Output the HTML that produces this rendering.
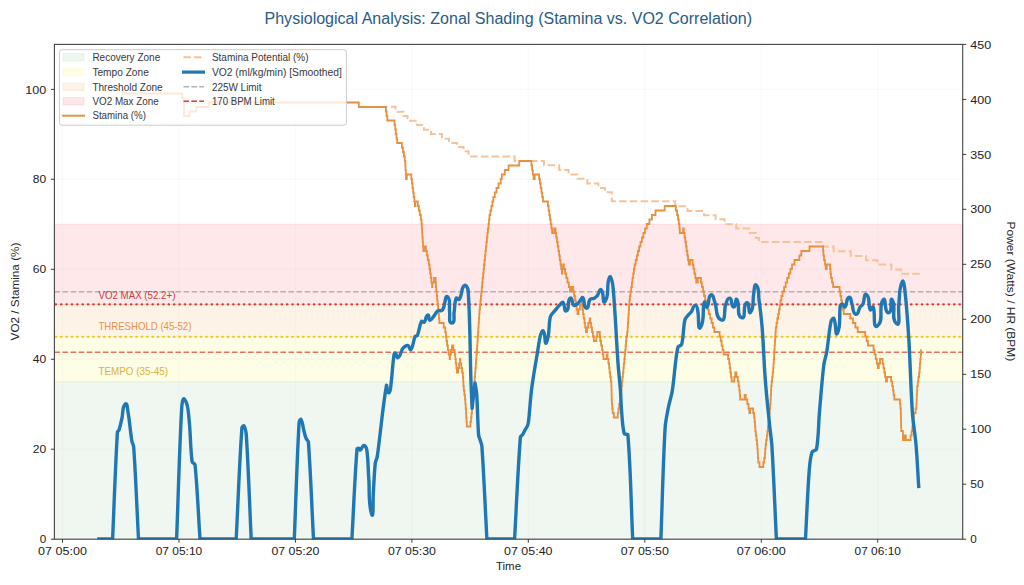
<!DOCTYPE html>
<html><head><meta charset="utf-8"><style>
html,body{margin:0;padding:0;background:#fff;width:1024px;height:585px;overflow:hidden}
svg{display:block;font-family:"Liberation Sans",sans-serif}
</style></head><body>
<svg width="1024" height="585" viewBox="0 0 1024 585">
<rect x="0" y="0" width="1024" height="585" fill="#ffffff"/>
<defs><clipPath id="ax"><rect x="54.4" y="44.4" width="908.3" height="494.8"/></clipPath></defs>
<rect x="54.4" y="381.8" width="908.3" height="157.4" fill="rgb(95,175,105)" fill-opacity="0.1" stroke="rgb(95,175,105)" stroke-opacity="0.1" stroke-width="1"/>
<rect x="54.4" y="336.8" width="908.3" height="45.0" fill="rgb(245,235,5)" fill-opacity="0.1" stroke="rgb(245,235,5)" stroke-opacity="0.1" stroke-width="1"/>
<rect x="54.4" y="304.4" width="908.3" height="32.4" fill="rgb(235,135,5)" fill-opacity="0.1" stroke="rgb(235,135,5)" stroke-opacity="0.1" stroke-width="1"/>
<rect x="54.4" y="224.3" width="908.3" height="80.1" fill="rgb(245,30,45)" fill-opacity="0.1" stroke="rgb(245,30,45)" stroke-opacity="0.1" stroke-width="1"/>
<path d="M62.5,44.4 L62.5,539.2 M179.0,44.4 L179.0,539.2 M295.4,44.4 L295.4,539.2 M411.9,44.4 L411.9,539.2 M528.3,44.4 L528.3,539.2 M644.8,44.4 L644.8,539.2 M761.3,44.4 L761.3,539.2 M877.7,44.4 L877.7,539.2 M54.4,539.2 L962.7,539.2 M54.4,449.2 L962.7,449.2 M54.4,359.3 L962.7,359.3 M54.4,269.3 L962.7,269.3 M54.4,179.3 L962.7,179.3 M54.4,89.4 L962.7,89.4" stroke="#b0b0b0" stroke-opacity="0.1" stroke-width="0.8" fill="none"/>
<path d="M54.4,291.8 L962.7,291.8" stroke="#b0b2b2" stroke-width="1.6" stroke-dasharray="5.63,2.44" fill="none"/>
<path d="M54.4,304.4 L962.7,304.4" stroke="#cc3d3d" stroke-width="2.3" stroke-linecap="round" stroke-dasharray="0.3,5.08" stroke-dashoffset="-1.3" fill="none"/>
<path d="M54.4,336.8 L962.7,336.8" stroke="#f0c419" stroke-width="2.3" stroke-linecap="round" stroke-dasharray="0.3,5.08" stroke-dashoffset="-1.3" fill="none"/>
<path d="M54.4,352.3 L962.7,352.3" stroke="#ee6e60" stroke-width="1.6" stroke-dasharray="5.63,2.44" fill="none"/>
<text x="98.4" y="299" font-size="10.6" fill="#c94242" textLength="77" lengthAdjust="spacingAndGlyphs">VO2 MAX (52.2+)</text>
<text x="98.4" y="330.4" font-size="10.6" fill="#e8904e" textLength="93" lengthAdjust="spacingAndGlyphs">THRESHOLD (45-52)</text>
<text x="98.4" y="375.3" font-size="10.6" fill="#d9b43a" textLength="69.6" lengthAdjust="spacingAndGlyphs">TEMPO (35-45)</text>
<g clip-path="url(#ax)">
<path d="M385.5,106.7 L395.5,106.7 L395.5,111.7 L403.5,111.7 L403.5,116.0 L407.5,116.0 L407.5,120.7 L417.0,120.7 L417.0,124.9 L424.0,124.9 L424.0,129.7 L431.0,129.7 L431.0,133.9 L442.0,133.9 L442.0,138.7 L449.0,138.7 L449.0,143.0 L457.0,143.0 L457.0,147.0 L463.5,147.0 L463.5,151.2 L468.5,151.2 L468.5,156.5 L514.6,156.5 L514.6,161.1 L544.0,161.1 L544.0,165.2 L559.2,165.2 L559.2,169.9 L568.6,169.9 L568.6,174.6 L577.3,174.6 L577.3,178.7 L587.3,178.7 L587.3,183.4 L598.4,183.4 L598.4,188.1 L604.9,188.1 L604.9,192.2 L611.9,192.2 L611.9,201.3 L675.2,201.3 L675.2,206.2 L687.5,206.2 L687.5,210.9 L704.0,210.9 L704.0,215.2 L715.7,215.2 L715.7,219.3 L724.5,219.3 L724.5,224.2 L736.2,224.2 L736.2,228.4 L749.7,228.4 L749.7,233.0 L756.0,233.0 L756.0,238.0 L759.0,238.0 L759.0,242.1 L822.9,242.1 L822.9,246.5 L833.6,246.5 L833.6,251.3 L850.8,251.3 L850.8,256.0 L866.0,256.0 L866.0,260.2 L877.4,260.2 L877.4,264.5 L891.4,264.5 L891.4,269.4 L900.9,269.4 L900.9,273.8 L921.2,273.8" stroke="#f5c39b" stroke-width="2" stroke-dasharray="7.51,3.25" stroke-dashoffset="5.46" fill="none"/>
<path d="M122.9,89.0 L122.9,93.5 L182.3,93.5 L182.3,98.0 L183.7,98.0 L183.7,102.5 L184.0,102.5 L184.0,116.0 L189.5,116.0 L189.5,111.5 L196.3,111.5 L196.3,107.0 L208.6,107.0 L208.6,102.5 L358.8,102.5 L358.8,107.0 L385.9,107.0 L385.9,111.5 L386.6,111.5 L386.6,116.0 L387.3,116.0 L387.3,120.5 L394.5,120.5 L394.5,125.0 L395.2,125.0 L395.2,129.5 L395.8,129.5 L395.8,134.0 L396.5,134.0 L396.5,138.5 L397.2,138.5 L397.2,143.0 L401.9,143.0 L401.9,147.5 L402.9,147.5 L402.9,152.0 L403.9,152.0 L403.9,156.5 L404.8,156.5 L404.8,161.0 L405.3,161.0 L405.3,165.5 L405.5,165.5 L405.5,170.0 L405.8,170.0 L405.8,174.5 L406.0,174.5 L406.0,179.0 L406.8,179.0 L406.8,174.5 L411.3,174.5 L411.3,179.0 L411.9,179.0 L411.9,183.5 L412.5,183.5 L412.5,188.0 L413.1,188.0 L413.1,192.5 L413.7,192.5 L413.7,197.0 L414.3,197.0 L414.3,201.5 L414.9,201.5 L414.9,206.0 L415.3,206.0 L415.3,201.5 L417.8,201.5 L417.8,206.0 L418.9,206.0 L418.9,210.5 L419.8,210.5 L419.8,215.0 L420.8,215.0 L420.8,219.5 L421.5,219.5 L421.5,224.0 L421.8,224.0 L421.8,228.5 L422.1,228.5 L422.1,233.0 L422.4,233.0 L422.4,237.5 L422.7,237.5 L422.7,242.0 L423.0,242.0 L423.0,246.5 L423.3,246.5 L423.3,251.0 L424.3,251.0 L424.3,246.5 L425.9,246.5 L425.9,251.0 L426.8,251.0 L426.8,255.5 L427.8,255.5 L427.8,260.0 L428.8,260.0 L428.8,264.5 L429.5,264.5 L429.5,269.0 L430.1,269.0 L430.1,273.5 L430.8,273.5 L430.8,278.0 L431.4,278.0 L431.4,282.5 L432.1,282.5 L432.1,287.0 L432.3,287.0 L432.3,282.5 L434.0,282.5 L434.0,278.0 L435.6,278.0 L435.6,282.5 L435.9,282.5 L435.9,287.0 L436.3,287.0 L436.3,291.5 L436.8,291.5 L436.8,296.0 L437.2,296.0 L437.2,300.5 L437.6,300.5 L437.6,305.0 L438.1,305.0 L438.1,309.5 L438.5,309.5 L438.5,314.0 L438.9,314.0 L438.9,318.5 L439.3,318.5 L439.3,323.0 L443.7,323.0 L443.7,327.5 L445.2,327.5 L445.2,332.0 L445.9,332.0 L445.9,336.5 L446.5,336.5 L446.5,341.0 L447.1,341.0 L447.1,345.5 L447.9,345.5 L447.9,350.0 L448.7,350.0 L448.7,354.5 L449.6,354.5 L449.6,359.0 L449.9,359.0 L449.9,354.5 L450.9,354.5 L450.9,350.0 L452.0,350.0 L452.0,345.5 L453.3,345.5 L453.3,350.0 L454.7,350.0 L454.7,354.5 L455.3,354.5 L455.3,359.0 L455.8,359.0 L455.8,363.5 L456.4,363.5 L456.4,368.0 L456.9,368.0 L456.9,372.5 L458.2,372.5 L458.2,368.0 L459.1,368.0 L459.1,363.5 L460.0,363.5 L460.0,359.0 L460.3,359.0 L460.3,363.5 L461.2,363.5 L461.2,368.0 L462.1,368.0 L462.1,372.5 L462.9,372.5 L462.9,377.0 L463.2,377.0 L463.2,381.5 L463.4,381.5 L463.4,386.0 L463.8,386.0 L463.8,390.5 L464.4,390.5 L464.4,395.0 L465.0,395.0 L465.0,399.5 L465.4,399.5 L465.4,404.0 L465.7,404.0 L465.7,408.5 L466.0,408.5 L466.0,413.0 L466.2,413.0 L466.2,417.5 L466.5,417.5 L466.5,422.0 L466.8,422.0 L466.8,426.5 L470.4,426.5 L470.4,422.0 L471.0,422.0 L471.0,417.5 L471.5,417.5 L471.5,413.0 L472.0,413.0 L472.0,408.5 L472.4,408.5 L472.4,404.0 L472.8,404.0 L472.8,399.5 L473.2,399.5 L473.2,395.0 L473.6,395.0 L473.6,390.5 L474.0,390.5 L474.0,386.0 L474.4,386.0 L474.4,381.5 L474.7,381.5 L474.7,377.0 L475.1,377.0 L475.1,372.5 L475.4,372.5 L475.4,368.0 L475.8,368.0 L475.8,363.5 L476.1,363.5 L476.1,359.0 L476.4,359.0 L476.4,354.5 L476.8,354.5 L476.8,350.0 L477.1,350.0 L477.1,345.5 L477.4,345.5 L477.4,341.0 L477.7,341.0 L477.7,336.5 L478.0,336.5 L478.0,332.0 L478.3,332.0 L478.3,327.5 L478.6,327.5 L478.6,323.0 L478.9,323.0 L478.9,318.5 L479.2,318.5 L479.2,314.0 L479.5,314.0 L479.5,309.5 L480.0,309.5 L480.0,305.0 L480.4,305.0 L480.4,300.5 L480.9,300.5 L480.9,296.0 L481.3,296.0 L481.3,291.5 L481.8,291.5 L481.8,287.0 L482.2,287.0 L482.2,282.5 L482.7,282.5 L482.7,278.0 L483.1,278.0 L483.1,273.5 L483.6,273.5 L483.6,269.0 L484.0,269.0 L484.0,264.5 L484.5,264.5 L484.5,260.0 L485.0,260.0 L485.0,255.5 L485.4,255.5 L485.4,251.0 L485.9,251.0 L485.9,246.5 L486.4,246.5 L486.4,242.0 L486.9,242.0 L486.9,237.5 L487.4,237.5 L487.4,233.0 L487.9,233.0 L487.9,228.5 L488.5,228.5 L488.5,224.0 L489.0,224.0 L489.0,219.5 L489.5,219.5 L489.5,215.0 L490.4,215.0 L490.4,210.5 L491.4,210.5 L491.4,206.0 L492.4,206.0 L492.4,201.5 L493.3,201.5 L493.3,197.0 L494.8,197.0 L494.8,192.5 L496.5,192.5 L496.5,188.0 L498.5,188.0 L498.5,183.5 L500.7,183.5 L500.7,179.0 L501.8,179.0 L501.8,174.5 L504.8,174.5 L504.8,170.0 L508.6,170.0 L508.6,165.5 L519.3,165.5 L519.3,161.0 L531.4,161.0 L531.4,165.5 L532.1,165.5 L532.1,170.0 L532.8,170.0 L532.8,174.5 L533.6,174.5 L533.6,179.0 L534.7,179.0 L534.7,174.5 L539.1,174.5 L539.1,179.0 L539.9,179.0 L539.9,183.5 L540.7,183.5 L540.7,188.0 L541.5,188.0 L541.5,192.5 L542.2,192.5 L542.2,197.0 L543.0,197.0 L543.0,201.5 L547.9,201.5 L547.9,206.0 L548.6,206.0 L548.6,210.5 L549.3,210.5 L549.3,215.0 L550.0,215.0 L550.0,219.5 L550.7,219.5 L550.7,224.0 L551.4,224.0 L551.4,228.5 L552.1,228.5 L552.1,233.0 L554.1,233.0 L554.1,228.5 L555.5,228.5 L555.5,233.0 L556.2,233.0 L556.2,237.5 L556.9,237.5 L556.9,242.0 L557.7,242.0 L557.7,246.5 L558.4,246.5 L558.4,251.0 L559.1,251.0 L559.1,255.5 L559.8,255.5 L559.8,260.0 L560.5,260.0 L560.5,264.5 L561.2,264.5 L561.2,269.0 L561.9,269.0 L561.9,273.5 L562.4,273.5 L562.4,269.0 L563.2,269.0 L563.2,264.5 L563.9,264.5 L563.9,269.0 L565.1,269.0 L565.1,273.5 L566.3,273.5 L566.3,278.0 L567.5,278.0 L567.5,282.5 L568.8,282.5 L568.8,287.0 L570.0,287.0 L570.0,291.5 L571.6,291.5 L571.6,287.0 L573.3,287.0 L573.3,291.5 L574.1,291.5 L574.1,296.0 L575.0,296.0 L575.0,300.5 L575.8,300.5 L575.8,305.0 L576.6,305.0 L576.6,309.5 L577.5,309.5 L577.5,314.0 L578.5,314.0 L578.5,309.5 L579.9,309.5 L579.9,305.0 L581.4,305.0 L581.4,300.5 L581.6,300.5 L581.6,305.0 L582.3,305.0 L582.3,309.5 L583.0,309.5 L583.0,314.0 L583.7,314.0 L583.7,318.5 L584.5,318.5 L584.5,323.0 L585.2,323.0 L585.2,327.5 L585.9,327.5 L585.9,332.0 L587.0,332.0 L587.0,327.5 L588.3,327.5 L588.3,323.0 L589.6,323.0 L589.6,318.5 L590.2,318.5 L590.2,323.0 L591.1,323.0 L591.1,327.5 L592.0,327.5 L592.0,332.0 L592.9,332.0 L592.9,336.5 L593.8,336.5 L593.8,341.0 L596.4,341.0 L596.4,336.5 L597.3,336.5 L597.3,332.0 L599.8,332.0 L599.8,336.5 L600.2,336.5 L600.2,341.0 L601.1,341.0 L601.1,345.5 L602.1,345.5 L602.1,350.0 L602.7,350.0 L602.7,354.5 L603.4,354.5 L603.4,359.0 L606.7,359.0 L606.7,354.5 L607.5,354.5 L607.5,359.0 L608.4,359.0 L608.4,363.5 L609.1,363.5 L609.1,368.0 L609.6,368.0 L609.6,372.5 L610.2,372.5 L610.2,377.0 L610.8,377.0 L610.8,381.5 L611.3,381.5 L611.3,386.0 L611.5,386.0 L611.5,390.5 L611.6,390.5 L611.6,395.0 L611.7,395.0 L611.7,399.5 L611.9,399.5 L611.9,404.0 L612.2,404.0 L612.2,408.5 L612.7,408.5 L612.7,413.0 L613.8,413.0 L613.8,417.5 L617.8,417.5 L617.8,413.0 L618.5,413.0 L618.5,408.5 L619.2,408.5 L619.2,404.0 L620.1,404.0 L620.1,399.5 L620.9,399.5 L620.9,395.0 L621.2,395.0 L621.2,390.5 L621.5,390.5 L621.5,386.0 L621.9,386.0 L621.9,381.5 L622.4,381.5 L622.4,377.0 L622.9,377.0 L622.9,372.5 L623.4,372.5 L623.4,368.0 L623.8,368.0 L623.8,363.5 L624.3,363.5 L624.3,359.0 L624.7,359.0 L624.7,354.5 L625.2,354.5 L625.2,350.0 L625.6,350.0 L625.6,345.5 L626.0,345.5 L626.0,341.0 L626.4,341.0 L626.4,336.5 L627.1,336.5 L627.1,332.0 L627.6,332.0 L627.6,327.5 L627.9,327.5 L627.9,323.0 L628.2,323.0 L628.2,318.5 L628.5,318.5 L628.5,314.0 L628.8,314.0 L628.8,309.5 L629.1,309.5 L629.1,305.0 L629.4,305.0 L629.4,300.5 L629.8,300.5 L629.8,296.0 L630.5,296.0 L630.5,291.5 L631.2,291.5 L631.2,287.0 L631.9,287.0 L631.9,282.5 L632.5,282.5 L632.5,278.0 L633.2,278.0 L633.2,273.5 L633.9,273.5 L633.9,269.0 L634.6,269.0 L634.6,264.5 L635.7,264.5 L635.7,260.0 L636.8,260.0 L636.8,255.5 L637.9,255.5 L637.9,251.0 L639.1,251.0 L639.1,246.5 L640.5,246.5 L640.5,242.0 L641.9,242.0 L641.9,237.5 L643.4,237.5 L643.4,233.0 L645.0,233.0 L645.0,228.5 L646.8,228.5 L646.8,224.0 L649.4,224.0 L649.4,219.5 L651.9,219.5 L651.9,215.0 L655.5,215.0 L655.5,210.5 L664.7,210.5 L664.7,206.0 L675.8,206.0 L675.8,210.5 L677.1,210.5 L677.1,215.0 L678.0,215.0 L678.0,219.5 L678.8,219.5 L678.8,224.0 L679.4,224.0 L679.4,228.5 L679.8,228.5 L679.8,233.0 L683.2,233.0 L683.2,228.5 L683.8,228.5 L683.8,233.0 L684.6,233.0 L684.6,237.5 L685.3,237.5 L685.3,242.0 L686.0,242.0 L686.0,246.5 L686.6,246.5 L686.6,251.0 L687.3,251.0 L687.3,255.5 L688.0,255.5 L688.0,260.0 L688.7,260.0 L688.7,264.5 L689.9,264.5 L689.9,260.0 L692.6,260.0 L692.6,264.5 L693.5,264.5 L693.5,269.0 L694.4,269.0 L694.4,273.5 L695.3,273.5 L695.3,278.0 L696.2,278.0 L696.2,282.5 L697.8,282.5 L697.8,278.0 L700.9,278.0 L700.9,282.5 L701.9,282.5 L701.9,287.0 L703.0,287.0 L703.0,291.5 L704.0,291.5 L704.0,296.0 L705.1,296.0 L705.1,300.5 L706.4,300.5 L706.4,305.0 L707.6,305.0 L707.6,309.5 L708.8,309.5 L708.8,314.0 L710.2,314.0 L710.2,318.5 L711.6,318.5 L711.6,323.0 L712.9,323.0 L712.9,327.5 L714.4,327.5 L714.4,332.0 L719.6,332.0 L719.6,336.5 L720.7,336.5 L720.7,341.0 L721.6,341.0 L721.6,345.5 L722.6,345.5 L722.6,350.0 L723.5,350.0 L723.5,354.5 L728.1,354.5 L728.1,359.0 L729.2,359.0 L729.2,363.5 L729.8,363.5 L729.8,368.0 L730.4,368.0 L730.4,372.5 L731.0,372.5 L731.0,377.0 L731.6,377.0 L731.6,381.5 L734.3,381.5 L734.3,377.0 L735.2,377.0 L735.2,372.5 L736.5,372.5 L736.5,377.0 L737.8,377.0 L737.8,381.5 L738.6,381.5 L738.6,386.0 L739.3,386.0 L739.3,390.5 L739.8,390.5 L739.8,395.0 L740.1,395.0 L740.1,399.5 L744.6,399.5 L744.6,395.0 L745.8,395.0 L745.8,399.5 L747.3,399.5 L747.3,404.0 L748.5,404.0 L748.5,408.5 L749.3,408.5 L749.3,413.0 L750.2,413.0 L750.2,408.5 L753.1,408.5 L753.1,413.0 L754.1,413.0 L754.1,417.5 L754.6,417.5 L754.6,422.0 L755.0,422.0 L755.0,426.5 L755.3,426.5 L755.3,431.0 L755.8,431.0 L755.8,435.5 L756.4,435.5 L756.4,440.0 L757.0,440.0 L757.0,444.5 L757.4,444.5 L757.4,449.0 L757.7,449.0 L757.7,453.5 L757.9,453.5 L757.9,458.0 L758.3,458.0 L758.3,462.5 L759.5,462.5 L759.5,467.0 L763.3,467.0 L763.3,462.5 L764.2,462.5 L764.2,458.0 L764.9,458.0 L764.9,453.5 L765.2,453.5 L765.2,449.0 L765.6,449.0 L765.6,444.5 L766.1,444.5 L766.1,440.0 L766.8,440.0 L766.8,435.5 L767.4,435.5 L767.4,431.0 L767.9,431.0 L767.9,426.5 L768.4,426.5 L768.4,422.0 L768.8,422.0 L768.8,417.5 L769.3,417.5 L769.3,413.0 L769.7,413.0 L769.7,408.5 L770.2,408.5 L770.2,404.0 L770.5,404.0 L770.5,399.5 L770.8,399.5 L770.8,395.0 L771.0,395.0 L771.0,390.5 L771.2,390.5 L771.2,386.0 L771.6,386.0 L771.6,381.5 L772.1,381.5 L772.1,377.0 L772.7,377.0 L772.7,372.5 L773.2,372.5 L773.2,368.0 L773.5,368.0 L773.5,363.5 L773.8,363.5 L773.8,359.0 L774.1,359.0 L774.1,354.5 L774.3,354.5 L774.3,350.0 L774.6,350.0 L774.6,345.5 L774.9,345.5 L774.9,341.0 L775.2,341.0 L775.2,336.5 L775.5,336.5 L775.5,332.0 L775.8,332.0 L775.8,327.5 L776.5,327.5 L776.5,323.0 L777.3,323.0 L777.3,318.5 L778.1,318.5 L778.1,314.0 L778.9,314.0 L778.9,309.5 L779.7,309.5 L779.7,305.0 L780.5,305.0 L780.5,300.5 L781.4,300.5 L781.4,296.0 L782.6,296.0 L782.6,291.5 L784.1,291.5 L784.1,287.0 L785.7,287.0 L785.7,282.5 L787.2,282.5 L787.2,278.0 L788.8,278.0 L788.8,273.5 L790.4,273.5 L790.4,269.0 L792.0,269.0 L792.0,264.5 L794.5,264.5 L794.5,260.0 L799.4,260.0 L799.4,255.5 L801.3,255.5 L801.3,251.0 L809.5,251.0 L809.5,246.5 L823.1,246.5 L823.1,251.0 L823.4,251.0 L823.4,255.5 L824.0,255.5 L824.0,260.0 L825.0,260.0 L825.0,264.5 L825.7,264.5 L825.7,269.0 L826.7,269.0 L826.7,264.5 L830.1,264.5 L830.1,269.0 L830.5,269.0 L830.5,273.5 L831.0,273.5 L831.0,278.0 L832.0,278.0 L832.0,282.5 L833.1,282.5 L833.1,287.0 L839.6,287.0 L839.6,291.5 L840.4,291.5 L840.4,296.0 L841.2,296.0 L841.2,300.5 L842.0,300.5 L842.0,305.0 L842.8,305.0 L842.8,309.5 L843.7,309.5 L843.7,314.0 L850.3,314.0 L850.3,318.5 L853.0,318.5 L853.0,323.0 L855.4,323.0 L855.4,327.5 L857.7,327.5 L857.7,332.0 L865.2,332.0 L865.2,336.5 L866.6,336.5 L866.6,341.0 L867.9,341.0 L867.9,345.5 L873.6,345.5 L873.6,350.0 L874.6,350.0 L874.6,354.5 L875.7,354.5 L875.7,359.0 L876.8,359.0 L876.8,363.5 L877.8,363.5 L877.8,368.0 L878.8,368.0 L878.8,363.5 L880.0,363.5 L880.0,359.0 L882.6,359.0 L882.6,363.5 L883.4,363.5 L883.4,368.0 L884.3,368.0 L884.3,372.5 L885.1,372.5 L885.1,377.0 L886.0,377.0 L886.0,381.5 L887.0,381.5 L887.0,377.0 L891.1,377.0 L891.1,381.5 L892.2,381.5 L892.2,386.0 L893.0,386.0 L893.0,390.5 L893.6,390.5 L893.6,395.0 L894.3,395.0 L894.3,399.5 L900.0,399.5 L900.0,404.0 L900.4,404.0 L900.4,408.5 L900.8,408.5 L900.8,413.0 L900.9,413.0 L900.9,417.5 L901.0,417.5 L901.0,422.0 L901.1,422.0 L901.1,426.5 L901.2,426.5 L901.2,431.0 L902.9,431.0 L902.9,440.0 L904.2,440.0 L904.2,435.5 L905.8,435.5 L905.8,440.0 L910.6,440.0 L910.6,435.5 L911.6,435.5 L911.6,431.0 L912.3,431.0 L912.3,426.5 L912.8,426.5 L912.8,422.0 L913.3,422.0 L913.3,417.5 L913.8,417.5 L913.8,413.0 L915.6,413.0 L915.6,408.5 L916.4,408.5 L916.4,404.0 L916.6,404.0 L916.6,399.5 L916.8,399.5 L916.8,395.0 L917.0,395.0 L917.0,390.5 L917.2,390.5 L917.2,386.0 L917.8,386.0 L917.8,381.5 L918.4,381.5 L918.4,377.0 L919.1,377.0 L919.1,372.5 L919.6,372.5 L919.6,368.0 L919.9,368.0 L919.9,363.5 L920.3,363.5 L920.3,359.0 L920.7,359.0 L920.7,354.5 L921.1,354.5 L921.1,350.0 L921.3,350.0" stroke="#e8903f" stroke-width="1.8" fill="none" stroke-linejoin="miter"/>
<path d="M98.9,539.0 L112.6,539.0 C114.2,503.8 115.3,467.4 117.4,432.2 C117.5,431.3 118.7,430.9 119.0,430.0 C120.3,426.1 121.0,422.0 122.0,418.0 C123.1,413.4 121.9,407.4 125.3,404.0 C127.3,402.0 127.5,409.3 128.0,412.0 C129.7,421.4 130.3,431.3 131.8,440.7 C132.1,442.8 133.6,444.8 133.7,447.0 C135.8,477.3 136.9,508.6 138.5,539.0 L176.6,539.0 C178.3,495.8 179.3,451.2 181.7,408.0 C181.9,405.0 182.6,396.8 184.5,399.2 C188.3,403.8 188.1,410.8 188.8,416.7 C190.6,431.5 190.2,447.0 192.1,461.8 C192.3,463.1 194.9,463.3 195.0,464.6 C197.5,489.1 198.3,514.4 200.0,539.0 L236.2,539.0 C238.1,502.4 239.3,464.6 241.9,428.0 C242.0,427.0 243.6,425.1 244.1,426.0 C245.8,429.1 246.2,432.9 246.4,436.4 C248.5,470.2 249.6,505.1 251.2,539.0 L294.3,539.0 C295.9,500.5 296.9,460.8 299.1,422.3 C299.2,421.2 300.5,418.5 301.1,419.5 C303.0,422.8 302.9,427.1 303.9,430.8 C304.6,433.4 305.2,436.2 306.2,438.7 C306.7,439.9 308.3,440.7 308.4,442.0 C310.7,474.0 311.8,507.0 313.5,539.0 L351.9,539.0 C353.6,509.3 354.7,478.7 357.0,449.1 C357.1,448.4 358.3,448.1 359.0,448.3 C359.7,448.5 359.8,450.4 360.4,450.0 C362.1,449.1 362.1,445.4 364.0,445.5 C365.9,445.6 366.6,448.6 366.9,450.5 C368.2,459.8 368.1,469.5 368.8,478.8 C369.7,490.4 368.1,502.9 371.6,514.0 C373.7,520.7 372.8,499.9 373.3,492.9 C374.0,483.1 374.2,473.0 375.3,463.2 C375.6,460.8 377.0,458.6 377.3,456.2 C380.6,433.0 382.4,408.8 386.4,385.7 C386.8,383.3 386.7,390.9 388.3,392.7 C389.0,393.5 390.1,391.1 390.3,390.0 C392.0,378.4 392.4,366.3 394.0,354.7 C394.1,354.0 394.8,352.8 395.4,353.2 C396.8,354.1 396.7,358.4 398.2,357.5 C400.9,355.9 400.7,351.6 402.4,349.0 C403.1,347.9 404.2,346.9 405.3,346.2 C406.1,345.7 407.3,345.1 408.1,345.6 C409.5,346.4 409.9,350.9 410.9,349.6 C413.7,345.9 413.2,340.5 415.1,336.3 C415.4,335.6 417.1,336.2 417.4,335.5 C419.3,331.0 419.2,325.7 421.4,321.4 C421.8,320.5 423.5,322.9 424.2,322.2 C426.1,320.4 425.3,316.0 427.8,315.1 C429.5,314.5 428.1,319.7 429.8,320.2 C431.4,320.6 432.4,317.9 433.5,316.6 C435.0,314.8 435.8,312.3 437.7,310.9 C438.9,310.1 440.8,311.2 442.0,310.4 C443.1,309.6 443.4,308.0 443.9,306.7 C445.2,303.5 445.1,294.4 447.6,296.8 C451.3,300.4 448.8,307.2 449.6,312.3 C450.2,315.9 448.2,323.0 451.8,323.0 C455.4,323.0 453.5,315.9 454.1,312.3 C454.9,307.7 454.4,302.6 456.1,298.2 C456.5,297.2 458.0,300.1 458.9,299.6 C460.2,298.8 460.3,296.8 460.9,295.4 C462.2,292.2 461.5,287.2 464.5,285.5 C466.4,284.4 468.1,289.0 468.2,291.2 C470.2,321.4 470.0,352.6 471.0,382.9 C471.3,391.3 471.7,399.9 472.1,408.3 C473.1,399.9 474.0,391.3 475.0,382.9 C475.6,386.6 476.4,390.4 476.7,394.2 C477.6,407.6 477.6,421.6 478.6,435.0 C478.7,436.5 479.5,437.9 479.9,439.3 C480.6,441.6 481.7,443.9 481.9,446.3 C484.0,476.9 485.2,508.4 486.9,539.0 L514.6,539.0 C516.5,505.3 517.8,470.6 520.4,437.0 C520.5,435.9 522.0,435.5 522.6,434.6 C523.5,433.2 524.2,431.5 525.0,430.0 C525.9,428.4 527.1,427.0 527.7,425.3 C528.5,423.0 528.6,420.5 528.9,418.1 C529.8,409.4 530.3,400.5 531.3,391.8 C531.9,386.2 532.8,380.5 533.7,375.0 C534.8,367.9 536.1,360.6 537.3,353.5 C538.3,347.6 538.9,341.4 540.4,335.6 C540.9,333.9 542.2,329.6 543.3,331.0 C545.8,334.1 544.5,346.3 546.3,342.7 C550.2,334.9 548.2,325.0 550.4,316.6 C551.0,314.3 553.2,312.7 554.7,310.9 C556.5,308.7 558.3,306.4 560.3,304.4 C561.1,303.6 562.3,301.6 563.1,302.4 C565.2,304.6 563.9,312.4 566.5,310.9 C570.3,308.7 566.7,300.9 570.2,298.2 C572.3,296.6 571.8,303.6 573.8,305.3 C574.7,306.1 576.2,304.6 577.2,303.9 C578.3,303.1 579.1,302.0 580.0,301.0 C581.0,299.9 581.9,296.6 582.9,297.7 C585.3,300.4 582.8,307.2 586.3,308.1 C589.2,308.9 588.0,302.0 589.9,299.6 C590.8,298.4 592.9,298.9 594.2,298.2 C595.5,297.5 596.6,296.5 597.5,295.4 C598.9,293.7 599.5,288.4 601.2,289.8 C604.3,292.4 602.3,304.7 604.9,301.6 C609.3,296.4 606.8,287.9 608.3,281.3 C608.7,279.7 609.7,275.6 610.5,277.0 C612.7,280.7 612.9,285.5 613.3,289.8 C615.4,313.9 616.3,338.9 618.0,363.1 C618.7,372.4 619.8,382.0 620.5,391.3 C620.9,396.9 620.9,402.6 621.4,408.2 C622.1,416.6 622.2,425.4 624.2,433.6 C624.5,434.9 627.8,433.7 627.9,435.0 C630.7,469.2 631.1,504.7 632.7,539.0 L660.9,539.0 C662.3,502.4 663.0,464.6 665.1,428.0 C665.5,420.9 667.2,413.8 668.5,406.8 C669.5,401.6 671.4,396.5 672.2,391.3 C674.5,376.9 674.9,361.8 677.8,347.5 C678.1,345.9 681.3,345.9 681.7,344.3 C683.7,336.5 683.1,327.9 684.9,320.0 C685.3,318.1 687.0,316.6 688.2,315.1 C689.1,313.9 690.5,313.0 691.4,311.8 C692.9,309.8 692.8,305.4 695.3,305.4 C697.6,305.4 697.4,309.6 697.9,311.8 C699.1,316.9 697.6,331.7 700.5,327.4 C705.2,320.4 701.8,310.1 704.4,302.1 C705.0,300.4 705.8,308.4 707.0,307.0 C709.8,303.9 707.4,297.2 710.9,295.0 C713.2,293.6 713.8,299.6 714.8,302.1 C717.2,307.9 715.3,318.1 721.3,320.0 C726.1,321.5 723.7,310.1 725.5,305.4 C726.5,302.8 727.0,297.7 729.7,298.2 C732.8,298.8 730.5,306.4 733.6,307.0 C736.2,307.5 735.2,297.4 736.8,299.5 C740.6,304.5 735.8,315.7 741.7,317.7 C746.6,319.4 742.1,305.4 746.6,302.8 C749.6,301.0 748.3,315.2 750.5,312.5 C754.4,307.7 752.4,300.1 753.7,294.0 C754.3,291.0 754.1,283.1 756.3,285.2 C759.6,288.4 758.3,294.3 758.9,298.9 C760.2,308.5 761.4,318.4 762.2,328.1 C763.5,345.2 764.0,362.9 765.3,380.0 C766.4,394.9 768.1,410.2 769.6,425.0 C770.3,432.5 771.6,440.2 772.0,447.7 C773.8,477.8 774.9,508.9 776.4,539.0 L805.5,539.0 C806.7,516.5 807.5,493.3 809.2,470.9 C809.7,464.6 810.1,458.0 812.1,452.0 C812.7,450.4 816.2,450.8 816.5,449.1 C818.7,437.3 818.4,424.8 819.4,412.8 C820.8,397.1 821.9,380.8 823.8,365.1 C824.3,360.7 826.0,356.4 826.7,352.1 C828.4,342.0 828.9,331.5 831.0,321.5 C831.3,320.2 833.3,317.4 833.9,318.6 C836.3,322.9 835.2,337.6 837.4,333.2 C841.4,325.0 838.7,314.6 840.3,305.6 C840.5,304.7 841.8,303.8 842.7,304.1 C843.9,304.4 844.2,307.9 845.0,307.0 C847.4,304.5 845.8,298.7 849.0,297.4 C851.2,296.5 851.1,301.8 852.0,304.1 C853.3,307.4 852.3,313.1 855.7,314.3 C858.3,315.2 858.5,309.3 860.1,307.0 C860.9,305.9 862.4,305.3 863.0,304.1 C864.5,301.1 863.9,292.4 866.5,294.5 C870.6,297.8 867.8,305.3 870.3,309.9 C870.9,311.1 872.6,305.8 873.2,307.0 C875.8,312.8 872.3,329.6 877.5,325.9 C884.7,320.7 877.6,306.5 883.3,299.7 C886.3,296.1 883.9,312.8 888.6,312.8 C893.1,312.8 889.5,296.1 892.1,299.7 C896.8,306.2 890.4,318.3 896.4,323.6 C900.9,327.6 897.9,311.5 898.7,305.6 C899.8,297.7 898.7,288.9 902.2,281.7 C903.8,278.4 904.7,288.8 905.1,292.5 C906.9,308.3 907.9,324.6 908.9,340.4 C910.3,364.3 910.8,388.9 912.4,412.8 C913.1,423.4 915.1,434.1 916.0,444.7 C917.2,458.5 917.8,472.7 918.7,486.5" stroke="#1f77b4" stroke-width="3.4" fill="none" stroke-linejoin="round" stroke-linecap="square"/>
</g>
<rect x="54.4" y="44.4" width="908.3" height="494.8" fill="none" stroke="#444444" stroke-width="1.1"/>
<path d="M62.5,539.2 L62.5,542.7 M179.0,539.2 L179.0,542.7 M295.4,539.2 L295.4,542.7 M411.9,539.2 L411.9,542.7 M528.3,539.2 L528.3,542.7 M644.8,539.2 L644.8,542.7 M761.3,539.2 L761.3,542.7 M877.7,539.2 L877.7,542.7 M54.4,539.2 L50.9,539.2 M54.4,449.2 L50.9,449.2 M54.4,359.3 L50.9,359.3 M54.4,269.3 L50.9,269.3 M54.4,179.3 L50.9,179.3 M54.4,89.4 L50.9,89.4 M962.7,539.2 L966.2,539.2 M962.7,484.2 L966.2,484.2 M962.7,429.2 L966.2,429.2 M962.7,374.3 L966.2,374.3 M962.7,319.3 L966.2,319.3 M962.7,264.3 L966.2,264.3 M962.7,209.3 L966.2,209.3 M962.7,154.4 L966.2,154.4 M962.7,99.4 L966.2,99.4 M962.7,44.4 L966.2,44.4" stroke="#3a3a3a" stroke-width="1" fill="none"/>
<text x="38.1" y="555.2" font-size="11.2" fill="#222" textLength="48.8" lengthAdjust="spacingAndGlyphs">07 05:00</text>
<text x="155.7" y="555.2" font-size="11.2" fill="#222" textLength="46.5" lengthAdjust="spacingAndGlyphs">07 05:10</text>
<text x="271.4" y="555.2" font-size="11.2" fill="#222" textLength="48" lengthAdjust="spacingAndGlyphs">07 05:20</text>
<text x="387.9" y="555.2" font-size="11.2" fill="#222" textLength="48" lengthAdjust="spacingAndGlyphs">07 05:30</text>
<text x="504.1" y="555.2" font-size="11.2" fill="#222" textLength="48.4" lengthAdjust="spacingAndGlyphs">07 05:40</text>
<text x="620.7" y="555.2" font-size="11.2" fill="#222" textLength="48.2" lengthAdjust="spacingAndGlyphs">07 05:50</text>
<text x="736.7" y="555.2" font-size="11.2" fill="#222" textLength="49.2" lengthAdjust="spacingAndGlyphs">07 06:00</text>
<text x="854.6" y="555.2" font-size="11.2" fill="#222" textLength="46.3" lengthAdjust="spacingAndGlyphs">07 06:10</text>
<text x="39.7" y="543.3" font-size="11.5" fill="#222" textLength="6.5" lengthAdjust="spacingAndGlyphs">0</text>
<text x="32.8" y="453.3" font-size="11.5" fill="#222" textLength="13.4" lengthAdjust="spacingAndGlyphs">20</text>
<text x="32.8" y="363.4" font-size="11.5" fill="#222" textLength="13.4" lengthAdjust="spacingAndGlyphs">40</text>
<text x="32.8" y="273.4" font-size="11.5" fill="#222" textLength="13.4" lengthAdjust="spacingAndGlyphs">60</text>
<text x="32.8" y="183.4" font-size="11.5" fill="#222" textLength="13.4" lengthAdjust="spacingAndGlyphs">80</text>
<text x="25.3" y="93.5" font-size="11.5" fill="#222" textLength="20.9" lengthAdjust="spacingAndGlyphs">100</text>
<text x="970.3" y="543.3" font-size="11.5" fill="#222" textLength="6.5" lengthAdjust="spacingAndGlyphs">0</text>
<text x="970.3" y="488.3" font-size="11.5" fill="#222" textLength="13.4" lengthAdjust="spacingAndGlyphs">50</text>
<text x="970.3" y="433.3" font-size="11.5" fill="#222" textLength="20.9" lengthAdjust="spacingAndGlyphs">100</text>
<text x="970.3" y="378.4" font-size="11.5" fill="#222" textLength="20.9" lengthAdjust="spacingAndGlyphs">150</text>
<text x="970.3" y="323.4" font-size="11.5" fill="#222" textLength="20.9" lengthAdjust="spacingAndGlyphs">200</text>
<text x="970.3" y="268.4" font-size="11.5" fill="#222" textLength="20.9" lengthAdjust="spacingAndGlyphs">250</text>
<text x="970.3" y="213.4" font-size="11.5" fill="#222" textLength="20.9" lengthAdjust="spacingAndGlyphs">300</text>
<text x="970.3" y="158.5" font-size="11.5" fill="#222" textLength="20.9" lengthAdjust="spacingAndGlyphs">350</text>
<text x="970.3" y="103.5" font-size="11.5" fill="#222" textLength="20.9" lengthAdjust="spacingAndGlyphs">400</text>
<text x="970.3" y="48.5" font-size="11.5" fill="#222" textLength="20.9" lengthAdjust="spacingAndGlyphs">450</text>
<text x="496" y="570.2" font-size="11" fill="#222" textLength="25" lengthAdjust="spacingAndGlyphs">Time</text>
<text transform="translate(19.2,291.5) rotate(-90)" x="0" y="0" font-size="11.5" fill="#222" text-anchor="middle" textLength="97.8" lengthAdjust="spacingAndGlyphs">VO2 / Stamina (%)</text>
<text transform="translate(1006.7,291.4) rotate(90)" x="0" y="0" font-size="11.5" fill="#222" text-anchor="middle" textLength="139.6" lengthAdjust="spacingAndGlyphs">Power (Watts) / HR (BPM)</text>
<text x="264.5" y="23.7" font-size="16" fill="#2b5b84" textLength="487.5" lengthAdjust="spacingAndGlyphs">Physiological Analysis: Zonal Shading (Stamina vs. VO2 Correlation)</text>
<rect x="59.4" y="49.7" width="287" height="75.5" rx="2.5" fill="#ffffff" fill-opacity="0.8" stroke="#cccccc" stroke-width="1"/>
<rect x="63.1" y="53.6" width="20.9" height="7.3" fill="rgb(95,175,105)" fill-opacity="0.1" stroke="rgb(95,175,105)" stroke-opacity="0.1" stroke-width="1"/>
<rect x="63.1" y="68.4" width="20.9" height="7.3" fill="rgb(245,235,5)" fill-opacity="0.1" stroke="rgb(245,235,5)" stroke-opacity="0.1" stroke-width="1"/>
<rect x="63.1" y="83.1" width="20.9" height="7.3" fill="rgb(235,135,5)" fill-opacity="0.1" stroke="rgb(235,135,5)" stroke-opacity="0.1" stroke-width="1"/>
<rect x="63.1" y="97.6" width="20.9" height="7.3" fill="rgb(245,30,45)" fill-opacity="0.1" stroke="rgb(245,30,45)" stroke-opacity="0.1" stroke-width="1"/>
<path d="M63.1,115.7 L84,115.7" stroke="#e8903f" stroke-width="2" stroke-linecap="square"/>
<text x="92.4" y="61.1" font-size="10" fill="#383838" textLength="67.8" lengthAdjust="spacingAndGlyphs">Recovery Zone</text>
<text x="92.4" y="75.9" font-size="10" fill="#383838" textLength="56.4" lengthAdjust="spacingAndGlyphs">Tempo Zone</text>
<text x="92.4" y="90.6" font-size="10" fill="#383838" textLength="70.3" lengthAdjust="spacingAndGlyphs">Threshold Zone</text>
<text x="92.4" y="105.1" font-size="10" fill="#383838" textLength="66.4" lengthAdjust="spacingAndGlyphs">VO2 Max Zone</text>
<text x="92.4" y="119.0" font-size="10" fill="#383838" textLength="53.5" lengthAdjust="spacingAndGlyphs">Stamina (%)</text>
<path d="M183.5,57.3 L204,57.3" stroke="#f5c39b" stroke-width="2" stroke-dasharray="7.4,3.2"/>
<path d="M182,72.1 L205,72.1" stroke="#1f77b4" stroke-width="3.2"/>
<path d="M183.5,86.8 L204,86.8" stroke="#a9b5b5" stroke-width="1.5" stroke-dasharray="5.55,2.4"/>
<path d="M183.5,101.3 L204,101.3" stroke="#e03a2a" stroke-width="1.5" stroke-dasharray="5.55,2.4"/>
<text x="211.9" y="61.1" font-size="10" fill="#383838" textLength="96.7" lengthAdjust="spacingAndGlyphs">Stamina Potential (%)</text>
<text x="211.9" y="75.9" font-size="10" fill="#383838" textLength="130" lengthAdjust="spacingAndGlyphs">VO2 (ml/kg/min) [Smoothed]</text>
<text x="211.9" y="90.6" font-size="10" fill="#383838" textLength="49.7" lengthAdjust="spacingAndGlyphs">225W Limit</text>
<text x="211.9" y="105.1" font-size="10" fill="#383838" textLength="62.9" lengthAdjust="spacingAndGlyphs">170 BPM Limit</text>
</svg>
</body></html>
